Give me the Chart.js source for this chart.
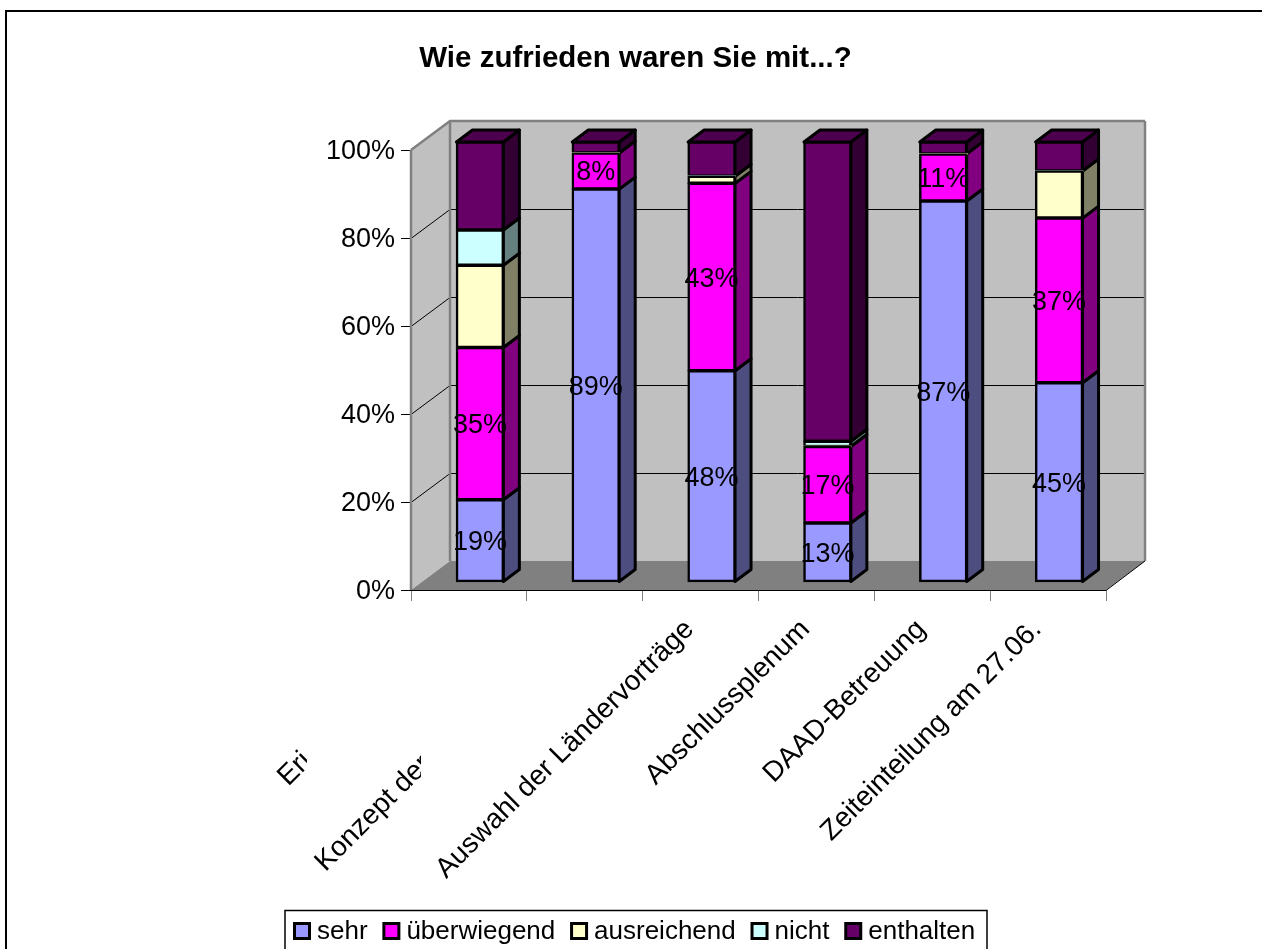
<!DOCTYPE html>
<html>
<head>
<meta charset="utf-8">
<script src="https://cdn.jsdelivr.net/npm/chart.js@4"></script>
<style>
html, body { margin: 0; padding: 0; background: #fff; }
canvas { display: block; }
</style>
</head>
<body>
<canvas id="chartZufrieden" width="1262" height="949"></canvas>
<script>
var kategorien = ["Eri", "Konzept der", "Auswahl der Ländervorträge", "Abschlussplenum", "DAAD-Betreuung", "Zeiteinteilung am 27.06."];
var sehr = [18.7, 89.3, 48, 13.4, 86.6, 45.3];
var ueberwiegend = [34.6, 8.2, 42.6, 17.4, 10.7, 37.4];
var ausreichend = [18.7, 0, 1.6, 0, 0, 10.7];
var nicht = [8, 0, 0, 1.2, 0, 0];
var enthalten = [20, 2.5, 7.8, 68, 2.7, 6.6];

var schrift = "'Liberation Sans', Arial, sans-serif";
var tiefeX = 16, tiefeY = 12;      // Tiefe der Saeulen
var wandX = 39, wandY = 29;        // Tiefe von Wand und Boden
var versatzX = 11, versatzY = -8;  // Saeulen stehen mitten auf dem Boden

function saeule(label, werte, farbe, seite, oben) {
    return {
        label: label,
        data: werte,
        backgroundColor: farbe,
        seitenFarbe: seite,
        obenFarbe: oben,
        borderColor: '#000',
        borderWidth: function (c) { return c.raw > 0 ? 2.5 : 0; },
        inflateAmount: 0.75,
        borderSkipped: false,
        clip: false
    };
}

function flaeche(ctx, punkte, farbe, linie, breite) {
    ctx.beginPath();
    punkte.forEach(function (p, i) { i ? ctx.lineTo(p[0], p[1]) : ctx.moveTo(p[0], p[1]); });
    ctx.closePath();
    ctx.fillStyle = farbe;
    ctx.fill();
    if (linie) {
        ctx.strokeStyle = linie;
        ctx.lineWidth = breite;
        ctx.lineJoin = 'round';
        ctx.stroke();
    }
}

// Rahmen, Waende und Boden
var hintergrund = {
    id: 'hintergrund',
    beforeDatasetsDraw: function (chart) {
        var ctx = chart.ctx, a = chart.chartArea, y = chart.scales.y;
        ctx.save();
        ctx.strokeStyle = '#000';
        ctx.lineWidth = 2;
        ctx.strokeRect(6, 11, 1300, 980);
        flaeche(ctx, [[a.left, a.top], [a.left + wandX, a.top - wandY], [a.left + wandX, a.bottom - wandY], [a.left, a.bottom]], '#c0c0c0');
        flaeche(ctx, [[a.left + wandX, a.top - wandY], [a.right + wandX, a.top - wandY], [a.right + wandX, a.bottom - wandY], [a.left + wandX, a.bottom - wandY]], '#c0c0c0');
        flaeche(ctx, [[a.left, a.bottom], [a.left + wandX, a.bottom - wandY], [a.right + wandX, a.bottom - wandY], [a.right, a.bottom]], '#808080');
        y.ticks.forEach(function (t) {
            if (t.value === 0) return;
            var py = y.getPixelForValue(t.value);
            var oben = t.value === 100;
            ctx.beginPath();
            ctx.moveTo(a.left, py + (oben ? 0 : 0.5));
            ctx.lineTo(a.left + wandX, py - wandY + (oben ? 0 : 0.5));
            ctx.lineTo(a.right + wandX, py - wandY + (oben ? 0 : 0.5));
            ctx.strokeStyle = oben ? '#808080' : '#000';
            ctx.lineWidth = oben ? 2.5 : 1;
            ctx.stroke();
        });
        ctx.beginPath();
        ctx.moveTo(a.left, a.bottom);
        ctx.lineTo(a.left, a.top);
        ctx.moveTo(a.left + wandX, a.top - wandY);
        ctx.lineTo(a.left + wandX, a.bottom - wandY);
        ctx.moveTo(a.right + wandX, a.top - wandY);
        ctx.lineTo(a.right + wandX, a.bottom - wandY);
        ctx.strokeStyle = '#808080';
        ctx.lineWidth = 2.5;
        ctx.stroke();
        ctx.beginPath();
        ctx.moveTo(a.left, a.bottom + 0.5);
        ctx.lineTo(a.right, a.bottom + 0.5);
        ctx.lineTo(a.right + wandX, a.bottom - wandY);
        ctx.strokeStyle = '#000';
        ctx.lineWidth = 1;
        ctx.stroke();
        ctx.restore();

        // Seiten und Deckel der Saeulen, von unten nach oben
        ctx.save();
        ctx.translate(versatzX, versatzY);
        chart.data.datasets.forEach(function (ds, i) {
            chart.getDatasetMeta(i).data.forEach(function (bar, j) {
                if (!ds.data[j]) return;
                var p = bar.getProps(['x', 'y', 'base', 'width']);
                var rechts = p.x + p.width / 2, links = p.x - p.width / 2;
                flaeche(ctx, [[rechts, p.y], [rechts + tiefeX, p.y - tiefeY], [rechts + tiefeX, p.base - tiefeY], [rechts, p.base]], ds.seitenFarbe, '#000', 3);
                if (i === chart.data.datasets.length - 1) {
                    flaeche(ctx, [[links, p.y], [links + tiefeX, p.y - tiefeY], [rechts + tiefeX, p.y - tiefeY], [rechts, p.y]], ds.obenFarbe, '#000', 3);
                }
            });
        });
    },
    afterDatasetsDraw: function (chart) {
        chart.ctx.restore();
    }
};

// Prozentwerte, Achsenbeschriftung (die ersten beiden sind im Original abgeschnitten), Legende
var beschriftung = {
    id: 'beschriftung',
    afterDraw: function (chart) {
        var ctx = chart.ctx, x = chart.scales.x;
        ctx.save();
        ctx.fillStyle = '#000';
        ctx.font = "27px " + schrift;
        ctx.textAlign = 'center';
        ctx.textBaseline = 'middle';
        [0, 1].forEach(function (i) {
            var meta = chart.getDatasetMeta(i);
            meta.data.forEach(function (bar, j) {
                var p = bar.getProps(['x', 'y', 'base']);
                ctx.fillText(Math.round(chart.data.datasets[i].data[j]) + '%', p.x + versatzX, (p.y + p.base) / 2 + versatzY + 2);
            });
        });

        var ende = [[-151, 132, 307], [-147, 135, 421], [0, 0, 9999], [0, 0, 9999], [0, 0, 9999], [0, 0, 9999]];
        ctx.font = "28px " + schrift;
        ctx.textAlign = 'right';
        kategorien.forEach(function (text, i) {
            ctx.save();
            ctx.beginPath();
            ctx.rect(0, 0, ende[i][2], 949);
            ctx.clip();
            ctx.translate(x.getPixelForTick(i) - 11 + ende[i][0], chart.chartArea.bottom + 35 + ende[i][1]);
            ctx.rotate(-Math.PI / 4);
            ctx.fillText(text, 0, 0);
            ctx.restore();
        });

        ctx.font = "26px " + schrift;
        ctx.strokeStyle = '#000';
        ctx.lineWidth = 1.5;
        ctx.strokeRect(285, 910.5, 702, 60);
        ctx.textAlign = 'left';
        var stiftX = 293;
        chart.data.datasets.forEach(function (ds) {
            ctx.fillStyle = ds.backgroundColor;
            ctx.lineWidth = 3;
            ctx.fillRect(stiftX + 1.5, 923.5, 15, 15);
            ctx.strokeRect(stiftX + 1.5, 923.5, 15, 15);
            ctx.fillStyle = '#000';
            ctx.fillText(ds.label, stiftX + 24, 932);
            stiftX += 24 + ctx.measureText(ds.label).width + 14.8;
        });
        ctx.restore();
    }
};

new Chart(document.getElementById('chartZufrieden').getContext('2d'), {
    type: 'bar',
    data: {
        labels: kategorien,
        datasets: [
            saeule('sehr', sehr, '#9999ff', '#4d4d80', '#4d4d80'),
            saeule('überwiegend', ueberwiegend, '#ff00ff', '#800080', '#800080'),
            saeule('ausreichend', ausreichend, '#ffffcc', '#808066', '#808066'),
            saeule('nicht', nicht, '#ccffff', '#668080', '#668080'),
            saeule('enthalten', enthalten, '#660066', '#330033', '#4d004d')
        ]
    },
    plugins: [hintergrund, beschriftung],
    options: {
        responsive: false,
        animation: false,
        layout: { padding: { left: 9 } },
        categoryPercentage: 1,
        barPercentage: 0.405,
        scales: {
            x: {
                stacked: true,
                ticks: { display: false },
                grid: { drawOnChartArea: false, drawTicks: true, tickLength: 11, color: '#808080' },
                border: { display: false },
                afterFit: function (s) { s.height = 359; }
            },
            y: {
                stacked: true,
                min: 0,
                max: 100,
                ticks: {
                    stepSize: 20,
                    padding: 6,
                    labelOffset: 2,
                    color: '#000',
                    font: { family: schrift, size: 27 },
                    callback: function (v) { return v + '%'; }
                },
                grid: { drawOnChartArea: false, drawTicks: true, tickLength: 10, color: '#000' },
                border: { display: false },
                afterFit: function (s) { s.width = 402; }
            },
            // nur Platzhalter rechts, damit der Titel mittig ueber dem ganzen Bild bleibt
            rechts: {
                position: 'right',
                ticks: { display: false },
                grid: { display: false },
                border: { display: false },
                afterFit: function (s) { s.width = 156; }
            }
        },
        plugins: {
            legend: { display: false },
            tooltip: { enabled: false },
            title: {
                display: true,
                text: 'Wie zufrieden waren Sie mit...?',
                color: '#000',
                font: { family: schrift, size: 29.5, weight: 'bold' },
                padding: { top: 41, bottom: 73.6 }
            }
        }
    }
});
</script>
</body>
</html>
